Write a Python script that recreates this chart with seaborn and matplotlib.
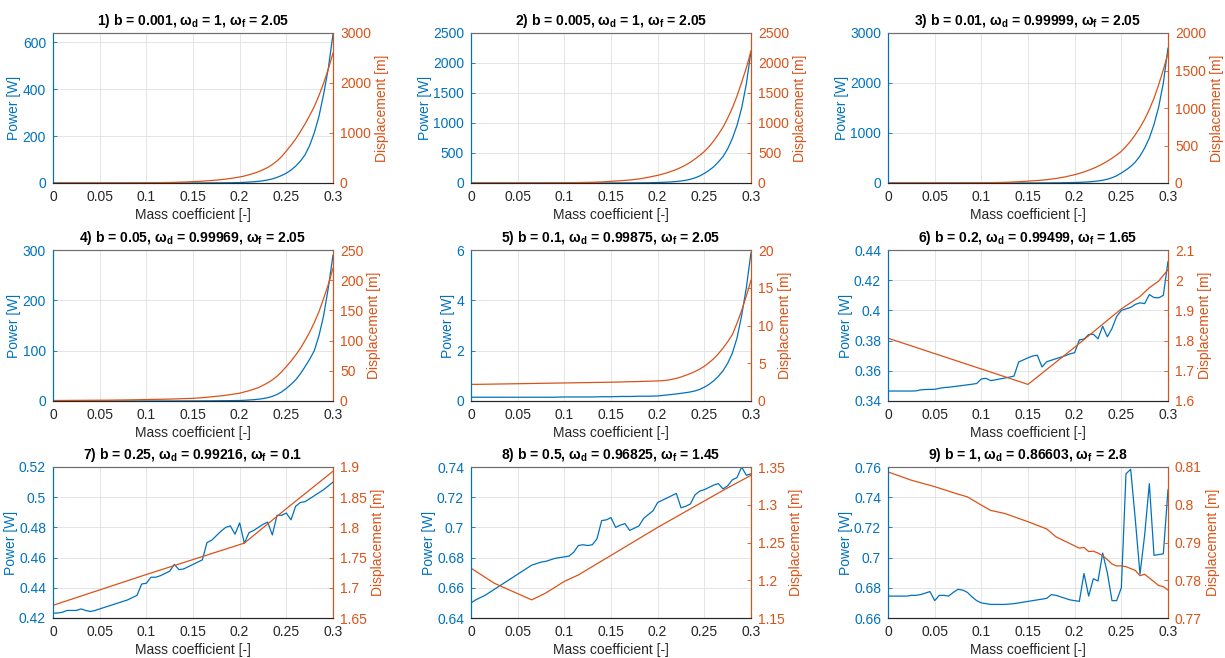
import matplotlib
matplotlib.use("Agg")
import matplotlib.pyplot as plt
import seaborn as sns
import pandas as pd
from matplotlib.ticker import FuncFormatter

# ---------------- data ----------------
# panels 1-5: 0.01 steps up to 0.19, then 0.005 steps up to 0.30
x_smooth = [0.00, 0.01, 0.02, 0.03, 0.04, 0.05, 0.06, 0.07, 0.08, 0.09,
            0.10, 0.11, 0.12, 0.13, 0.14, 0.15, 0.16, 0.17, 0.18, 0.19,
            0.200, 0.205, 0.210, 0.215, 0.220, 0.225, 0.230, 0.235, 0.240, 0.245,
            0.250, 0.255, 0.260, 0.265, 0.270, 0.275, 0.280, 0.285, 0.290, 0.295, 0.300]

# panels 6-9 power
x_fine = [0.000, 0.005, 0.010, 0.015, 0.020, 0.025, 0.030, 0.035, 0.040, 0.045,
          0.050, 0.055, 0.060, 0.065, 0.070, 0.075, 0.080, 0.085, 0.090, 0.095,
          0.100, 0.105, 0.110, 0.115, 0.120, 0.125, 0.130, 0.135, 0.140, 0.145,
          0.150, 0.155, 0.160, 0.165, 0.170, 0.175, 0.180, 0.185, 0.190, 0.195,
          0.200, 0.205, 0.210, 0.215, 0.220, 0.225, 0.230, 0.235, 0.240, 0.245,
          0.250, 0.255, 0.260, 0.265, 0.270, 0.275, 0.280, 0.285, 0.290, 0.295, 0.300]

power_1 = [0, 0, 0, 0, 0, 0, 0, 0, 0, 0,
           0.01, 0.02, 0.03, 0.05, 0.08, 0.13, 0.22, 0.38, 0.65, 1.1,
           2, 2.8, 4, 5.3, 7, 9.5, 13, 17.5, 24, 32,
           42, 55, 72, 93, 120, 160, 215, 285, 380, 490, 635]
disp_1 = [0.3, 0.4, 0.5, 0.6, 0.8, 1.0, 1.3, 1.7, 2.3, 3.2,
          4.5, 6.3, 9, 13, 19, 27, 37, 50, 67, 90,
          120, 140, 165, 192, 225, 265, 310, 370, 440, 530,
          640, 755, 880, 1025, 1180, 1350, 1530, 1750, 2000, 2280, 2600]

power_2 = [0, 0, 0, 0, 0, 0, 0, 0, 0, 0,
           0.03, 0.05, 0.09, 0.15, 0.25, 0.45, 0.8, 1.4, 2.4, 4.2,
           8, 10.5, 14, 19, 25, 34, 45, 62, 85, 117,
           160, 210, 270, 350, 440, 570, 740, 960, 1250, 1650, 2200]
disp_2 = [0.3, 0.35, 0.4, 0.5, 0.65, 0.8, 1.0, 1.3, 1.8, 2.6,
          4, 6, 9, 12, 18, 28, 38, 50, 68, 95,
          128, 148, 170, 196, 225, 260, 300, 345, 400, 460,
          525, 605, 700, 810, 930, 1080, 1250, 1450, 1680, 1920, 2200]

power_3 = [0, 0, 0, 0, 0, 0, 0, 0, 0, 0,
           0.04, 0.07, 0.12, 0.2, 0.33, 0.6, 1.0, 1.8, 3.2, 5.6,
           10, 13, 17, 23, 30, 41, 55, 76, 105, 145,
           200, 260, 330, 420, 540, 700, 900, 1170, 1520, 2000, 2700]
disp_3 = [0.2, 0.25, 0.3, 0.4, 0.5, 0.65, 0.85, 1.1, 1.5, 2.1,
          3, 4.5, 7, 11, 17, 25, 33, 44, 60, 82,
          111, 128, 148, 170, 195, 223, 255, 290, 330, 374,
          422, 487, 560, 645, 740, 850, 980, 1130, 1310, 1510, 1730]

power_4 = [0.01, 0.01, 0.01, 0.01, 0.01, 0.01, 0.01, 0.01, 0.01, 0.01,
           0.02, 0.03, 0.05, 0.08, 0.12, 0.18, 0.26, 0.38, 0.55, 0.75,
           1.0, 1.4, 2.0, 2.6, 3.5, 4.8, 6.5, 9.2, 13, 18,
           25, 33, 42, 54, 68, 83, 100, 130, 170, 225, 290]
disp_4 = [0.8, 0.9, 1.0, 1.1, 1.2, 1.3, 1.4, 1.6, 1.8, 2.1,
          2.4, 2.7, 3.0, 3.4, 3.9, 4.4, 5.5, 7, 8.5, 10.5,
          13, 15, 17, 19.5, 22, 26, 30, 35, 41, 48.5,
          57, 66, 76, 87, 100, 114, 130, 148, 170, 193, 220]

power_5 = [0.15, 0.15, 0.15, 0.15, 0.15, 0.15, 0.15, 0.15, 0.15, 0.15,
           0.16, 0.16, 0.16, 0.16, 0.17, 0.17, 0.18, 0.18, 0.19, 0.19,
           0.2, 0.22, 0.24, 0.26, 0.28, 0.305, 0.33, 0.36, 0.4, 0.46,
           0.55, 0.66, 0.8, 0.98, 1.2, 1.5, 1.9, 2.5, 3.4, 4.5, 5.9]
disp_5 = [2.2, 2.21, 2.23, 2.25, 2.27, 2.29, 2.31, 2.33, 2.35, 2.37,
          2.39, 2.41, 2.43, 2.45, 2.47, 2.49, 2.52, 2.55, 2.58, 2.62,
          2.66, 2.69, 2.75, 2.86, 3.0, 3.18, 3.4, 3.63, 3.9, 4.22,
          4.6, 5.07, 5.6, 6.25, 7.0, 7.85, 8.8, 10.3, 12.0, 13.9, 16.0]

power_6 = [0.3466, 0.3466, 0.3466, 0.3466, 0.3466, 0.3466, 0.3467, 0.3474, 0.3476, 0.3477,
           0.3477, 0.3484, 0.3489, 0.3491, 0.3495, 0.3499, 0.3503, 0.3507, 0.3511, 0.3516,
           0.3546, 0.3550, 0.3535, 0.3540, 0.3546, 0.3552, 0.3558, 0.3565, 0.3658, 0.3672,
           0.3686, 0.3698, 0.3703, 0.3625, 0.3660, 0.3670, 0.3680, 0.3690, 0.3700, 0.3712,
           0.3720, 0.3805, 0.3810, 0.3840, 0.3842, 0.3812, 0.3895, 0.3825, 0.3880, 0.3960,
           0.4000, 0.4010, 0.4020, 0.4040, 0.4050, 0.4045, 0.4105, 0.4085, 0.4083, 0.4100, 0.4325]
disp_6_x = [0.0, 0.15, 0.2, 0.25, 0.27, 0.28, 0.29, 0.3]
disp_6 = [1.808, 1.655, 1.778, 1.905, 1.946, 1.975, 1.997, 2.035]

power_7 = [0.4232, 0.4233, 0.4238, 0.4250, 0.4250, 0.4250, 0.4260, 0.4250, 0.4243, 0.4250,
           0.4260, 0.4270, 0.4280, 0.4290, 0.4300, 0.4310, 0.4320, 0.4335, 0.4350, 0.4425,
           0.4430, 0.4470, 0.4470, 0.4480, 0.4495, 0.4510, 0.4555, 0.4520, 0.4525, 0.4540,
           0.4555, 0.4570, 0.4585, 0.4700, 0.4715, 0.4745, 0.4775, 0.4800, 0.4810, 0.4755,
           0.4830, 0.4695, 0.4765, 0.4780, 0.4800, 0.4820, 0.4835, 0.4750, 0.4880, 0.4880,
           0.4895, 0.4850, 0.4940, 0.4965, 0.4970, 0.4990, 0.5010, 0.5030, 0.5050, 0.5075, 0.5100]
disp_7_x = [0.0, 0.1, 0.205, 0.25, 0.3]
disp_7 = [1.671, 1.722, 1.774, 1.831, 1.893]

power_8 = [0.6500, 0.6520, 0.6535, 0.6550, 0.6570, 0.6590, 0.6610, 0.6630, 0.6650, 0.6670,
           0.6690, 0.6710, 0.6730, 0.6750, 0.6760, 0.6770, 0.6775, 0.6785, 0.6795, 0.6800,
           0.6805, 0.6810, 0.6835, 0.6880, 0.6885, 0.6880, 0.6885, 0.6925, 0.7045, 0.7050,
           0.7065, 0.7000, 0.7015, 0.7025, 0.6980, 0.6995, 0.7010, 0.7060, 0.7085, 0.7110,
           0.7165, 0.7180, 0.7195, 0.7210, 0.7225, 0.7130, 0.7140, 0.7155, 0.7215, 0.7240,
           0.7250, 0.7265, 0.7280, 0.7290, 0.7255, 0.7275, 0.7315, 0.7330, 0.7400, 0.7345, 0.7355]
disp_8_x = [0.0, 0.025, 0.065, 0.08, 0.1, 0.115, 0.2, 0.27, 0.3]
disp_8 = [1.216, 1.196, 1.174, 1.183, 1.1985, 1.207, 1.270, 1.319, 1.339]

power_9 = [0.6745, 0.6745, 0.6745, 0.6745, 0.6745, 0.6750, 0.6750, 0.6755, 0.6765, 0.6775,
           0.6715, 0.6750, 0.6750, 0.6745, 0.6770, 0.6790, 0.6785, 0.6770, 0.6740, 0.6715,
           0.6700, 0.6695, 0.6690, 0.6690, 0.6690, 0.6690, 0.6692, 0.6695, 0.6700, 0.6705,
           0.6710, 0.6715, 0.6720, 0.6725, 0.6730, 0.6755, 0.6750, 0.6740, 0.6730, 0.6720,
           0.6715, 0.6710, 0.6895, 0.6745, 0.6860, 0.6845, 0.7030, 0.6900, 0.6715, 0.6715,
           0.6800, 0.7555, 0.7585, 0.7250, 0.6890, 0.7150, 0.7490, 0.7015, 0.7020, 0.7025, 0.7450]
disp_9_x = [0.0, 0.025, 0.05, 0.075, 0.085, 0.1, 0.11, 0.125, 0.15, 0.17, 0.18, 0.2,
            0.205, 0.21, 0.215, 0.22, 0.225, 0.23, 0.235, 0.24, 0.245, 0.25, 0.255,
            0.26, 0.265, 0.27, 0.275, 0.28, 0.285, 0.29, 0.295, 0.3]
disp_9 = [0.8087, 0.8065, 0.8048, 0.8028, 0.8021, 0.7999, 0.7985, 0.7977, 0.7955, 0.7936,
          0.7915, 0.7891, 0.7885, 0.7887, 0.7876, 0.7877, 0.7872, 0.7865, 0.7855, 0.7843,
          0.7838, 0.7838, 0.7836, 0.7831, 0.7826, 0.7812, 0.7816, 0.7806, 0.7796, 0.7786,
          0.7783, 0.7774]

titles = [
    r"1) b = 0.001, ω$_\mathbf{d}$ = 1, ω$_\mathbf{f}$ = 2.05",
    r"2) b = 0.005, ω$_\mathbf{d}$ = 1, ω$_\mathbf{f}$ = 2.05",
    r"3) b = 0.01, ω$_\mathbf{d}$ = 0.99999, ω$_\mathbf{f}$ = 2.05",
    r"4) b = 0.05, ω$_\mathbf{d}$ = 0.99969, ω$_\mathbf{f}$ = 2.05",
    r"5) b = 0.1, ω$_\mathbf{d}$ = 0.99875, ω$_\mathbf{f}$ = 2.05",
    r"6) b = 0.2, ω$_\mathbf{d}$ = 0.99499, ω$_\mathbf{f}$ = 1.65",
    r"7) b = 0.25, ω$_\mathbf{d}$ = 0.99216, ω$_\mathbf{f}$ = 0.1",
    r"8) b = 0.5, ω$_\mathbf{d}$ = 0.96825, ω$_\mathbf{f}$ = 1.45",
    r"9) b = 1, ω$_\mathbf{d}$ = 0.86603, ω$_\mathbf{f}$ = 2.8",
]

x_ticks = [0, 0.05, 0.1, 0.15, 0.2, 0.25, 0.3]
left_ticks = [
    [0, 200, 400, 600], [0, 500, 1000, 1500, 2000, 2500], [0, 1000, 2000, 3000],
    [0, 100, 200, 300], [0, 2, 4, 6], [0.34, 0.36, 0.38, 0.40, 0.42, 0.44],
    [0.42, 0.44, 0.46, 0.48, 0.50, 0.52], [0.64, 0.66, 0.68, 0.70, 0.72, 0.74],
    [0.66, 0.68, 0.70, 0.72, 0.74, 0.76],
]
left_lims = [(0, 640), (0, 2500), (0, 3000), (0, 300), (0, 6), (0.34, 0.44),
             (0.42, 0.52), (0.64, 0.74), (0.66, 0.76)]
right_ticks = [
    [0, 1000, 2000, 3000], [0, 500, 1000, 1500, 2000, 2500], [0, 500, 1000, 1500, 2000],
    [0, 50, 100, 150, 200, 250], [0, 5, 10, 15, 20], [1.6, 1.7, 1.8, 1.9, 2.0, 2.1],
    [1.65, 1.7, 1.75, 1.8, 1.85, 1.9], [1.15, 1.2, 1.25, 1.3, 1.35],
    [0.77, 0.78, 0.79, 0.8, 0.81],
]
right_lims = [(0, 3000), (0, 2500), (0, 2000), (0, 250), (0, 20), (1.6, 2.1),
              (1.65, 1.9), (1.15, 1.35), (0.77, 0.81)]

power_series = [power_1, power_2, power_3, power_4, power_5, power_6, power_7, power_8, power_9]
power_x = [x_smooth] * 5 + [x_fine] * 4
disp_series = [disp_1, disp_2, disp_3, disp_4, disp_5, disp_6, disp_7, disp_8, disp_9]
disp_x = [x_smooth] * 5 + [disp_6_x, disp_7_x, disp_8_x, disp_9_x]

# ---------------- style ----------------
sns.set_style("white")
plt.rcParams["font.family"] = ["Liberation Sans", "DejaVu Sans"]
plt.rcParams["mathtext.fontset"] = "custom"
plt.rcParams["mathtext.rm"] = "Liberation Sans"
plt.rcParams["mathtext.bf"] = "Liberation Sans:bold"

BLUE = "#0072BD"
ORANGE = "#D95319"
DARK = "#262626"
FS = 10

fmt = FuncFormatter(lambda v, p: f"{round(v, 6):g}")

fig = plt.figure(figsize=(12.25, 6.58), dpi=100)
W, H = 1225.0, 658.0
col_px = [(53, 333), (471, 751), (888, 1168)]
row_px = [(33, 183), (250, 401), (467, 618)]

for i in range(9):
    r, c = divmod(i, 3)
    x0, x1 = col_px[c]
    y0, y1 = row_px[r]
    ax = fig.add_axes([x0 / W, 1 - y1 / H, (x1 - x0) / W, (y1 - y0) / H])
    ax2 = ax.twinx()

    dfp = pd.DataFrame({"x": power_x[i], "y": power_series[i]})
    dfd = pd.DataFrame({"x": disp_x[i], "y": disp_series[i]})
    sns.lineplot(data=dfp, x="x", y="y", ax=ax, color=BLUE, linewidth=0.9, estimator=None)
    sns.lineplot(data=dfd, x="x", y="y", ax=ax2, color=ORANGE, linewidth=0.9, estimator=None)

    ax.set_xlim(0, 0.3)
    ax.set_ylim(*left_lims[i])
    ax2.set_ylim(*right_lims[i])
    ax.set_xticks(x_ticks)
    ax.set_yticks(left_ticks[i])
    ax2.set_yticks(right_ticks[i])
    ax.xaxis.set_major_formatter(fmt)
    ax.yaxis.set_major_formatter(fmt)
    ax2.yaxis.set_major_formatter(fmt)

    ax.grid(True, color="#e0e0e0", linewidth=0.6)
    ax.set_axisbelow(True)

    ax.tick_params(axis="x", colors=DARK, labelsize=FS, direction="in", length=3, width=0.6, pad=5)
    ax.tick_params(axis="y", colors=BLUE, labelsize=FS, direction="in", length=3, width=0.6, pad=5)
    ax2.tick_params(axis="y", colors=ORANGE, labelsize=FS, direction="in", length=3, width=0.6, pad=5)

    for a in (ax, ax2):
        a.spines["top"].set_color("#6e6e6e")
        a.spines["bottom"].set_color(DARK)
        a.spines["left"].set_color(BLUE)
        a.spines["right"].set_color(ORANGE)
        for s in a.spines.values():
            s.set_linewidth(0.8)
            s.set_visible(True)

    ax.set_xlabel("Mass coefficient [-]", fontsize=FS, color=DARK, labelpad=3)
    ax.set_ylabel("Power [W]", fontsize=FS, color=BLUE, labelpad=1)
    ax2.set_ylabel("Displacement [m]", fontsize=FS, color=ORANGE, labelpad=3)
    ax.set_title(titles[i], fontsize=FS, fontweight="bold", color="black", pad=6)

fig.savefig("out.png", dpi=100, facecolor="white")
